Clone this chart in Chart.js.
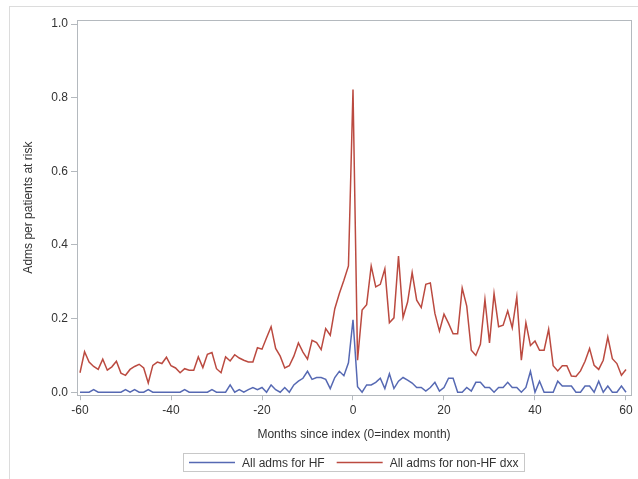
<!DOCTYPE html>
<html>
<head>
<meta charset="utf-8">
<script src="https://cdn.jsdelivr.net/npm/chart.js@4.4.1/dist/chart.umd.min.js"></script>
<style>
  html, body { margin: 0; padding: 0; background: #fff; }
  #wrap { position: relative; width: 638px; height: 479px; }
  #frame { position: absolute; left: 9px; top: 6px; right: 0; bottom: 0; border-left: 1px solid #dcdcdc; border-top: 1px solid #dcdcdc; }
  canvas { position: absolute; left: 0; top: 0; }
</style>
</head>
<body>
<div id="wrap">
  <div id="frame"></div>
  <canvas id="chart" width="638" height="479"></canvas>
</div>
<script>
// months since index (0 = index month)
const months = [
  -60, -59, -58, -57, -56, -55, -54, -53, -52, -51,
  -50, -49, -48, -47, -46, -45, -44, -43, -42, -41,
  -40, -39, -38, -37, -36, -35, -34, -33, -32, -31,
  -30, -29, -28, -27, -26, -25, -24, -23, -22, -21,
  -20, -19, -18, -17, -16, -15, -14, -13, -12, -11,
  -10, -9, -8, -7, -6, -5, -4, -3, -2, -1,
  0,
  1, 2, 3, 4, 5, 6, 7, 8, 9, 10,
  11, 12, 13, 14, 15, 16, 17, 18, 19, 20,
  21, 22, 23, 24, 25, 26, 27, 28, 29, 30,
  31, 32, 33, 34, 35, 36, 37, 38, 39, 40,
  41, 42, 43, 44, 45, 46, 47, 48, 49, 50,
  51, 52, 53, 54, 55, 56, 57, 58, 59, 60
];

// All adms for HF
const hfAdms = [
  0, 0, 0, 0.007, 0, 0, 0, 0, 0, 0,
  0.007, 0, 0.007, 0, 0, 0.007, 0, 0, 0, 0,
  0, 0, 0, 0.007, 0, 0, 0, 0, 0, 0.007,
  0, 0, 0, 0.02, 0, 0.007, 0, 0.007, 0.013, 0.007,
  0.013, 0, 0.02, 0.007, 0, 0.013, 0, 0.02, 0.03, 0.038,
  0.057, 0.035, 0.04, 0.04, 0.035, 0.01, 0.04, 0.057, 0.045, 0.08,
  0.197,
  0.015, 0, 0.02, 0.02, 0.027, 0.038, 0.01, 0.05, 0.01, 0.03,
  0.04, 0.033, 0.025, 0.013, 0.013, 0.003, 0.013, 0.027, 0.003, 0.013,
  0.038, 0.038, 0, 0, 0.013, 0.003, 0.027, 0.027, 0.013, 0.013,
  0, 0.013, 0.013, 0.027, 0.013, 0.013, 0, 0.013, 0.057, 0,
  0.03, 0, 0, 0, 0.03, 0.017, 0.017, 0.017, 0, 0,
  0.017, 0.017, 0, 0.03, 0, 0.017, 0, 0, 0.017, 0
];

// All adms for non-HF dxx
const nonHfAdms = [
  0.053, 0.11, 0.082, 0.07, 0.062, 0.09, 0.06, 0.069, 0.084, 0.052,
  0.046, 0.062, 0.07, 0.076, 0.066, 0.025, 0.073, 0.082, 0.078, 0.095,
  0.072, 0.066, 0.053, 0.064, 0.06, 0.06, 0.096, 0.067, 0.103, 0.108,
  0.064, 0.053, 0.096, 0.085, 0.102, 0.093, 0.087, 0.082, 0.082, 0.121,
  0.117, 0.148, 0.178, 0.119, 0.098, 0.066, 0.072, 0.098, 0.134, 0.109,
  0.09, 0.141, 0.135, 0.116, 0.173, 0.155, 0.227, 0.268, 0.304, 0.343,
  0.822,
  0.087, 0.223, 0.238, 0.343, 0.286, 0.293, 0.335, 0.189, 0.202, 0.37,
  0.203, 0.245, 0.325, 0.25, 0.23, 0.293, 0.297, 0.214, 0.166, 0.212,
  0.187, 0.159, 0.159, 0.283, 0.234, 0.114, 0.1, 0.13, 0.252, 0.134,
  0.268, 0.178, 0.182, 0.221, 0.175, 0.259, 0.087, 0.189, 0.127, 0.139,
  0.114, 0.114, 0.171, 0.072, 0.058, 0.072, 0.072, 0.044, 0.043, 0.058,
  0.084, 0.119, 0.073, 0.062, 0.087, 0.15, 0.091, 0.078, 0.046, 0.062
];

const xTicks = [-60, -40, -20, 0, 20, 40, 60];
const yTicks = [0, 0.2, 0.4, 0.6, 0.8, 1.0];

const FONT = 'Liberation Sans, Arial, sans-serif';
const AXIS_GREY = '#b4b9be';

function toPoints(ys) {
    return months.map(function (m, i) { return { x: m, y: ys[i] }; });
}

// box round the plot area (top and right sides too)
const frameBox = {
    id: 'frameBox',
    afterDatasetsDraw(chart) {
        const a = chart.chartArea;
        const ctx = chart.ctx;
        ctx.save();
        ctx.strokeStyle = AXIS_GREY;
        ctx.lineWidth = 1;
        ctx.strokeRect(Math.round(a.left) + 0.5, Math.round(a.top) + 0.5,
            Math.round(a.right - a.left), Math.round(a.bottom - a.top));
        ctx.restore();
    }
};

// legend with a border, centred under the plot
const boxedLegend = {
    id: 'boxedLegend',
    afterDraw(chart) {
        const ctx = chart.ctx;
        const a = chart.chartArea;
        const sets = chart.data.datasets;
        ctx.save();
        ctx.font = '12px ' + FONT;
        const lineLen = 46, gap = 7, itemGap = 12, pad = 6;
        let total = pad * 2;
        sets.forEach(function (ds, i) {
            total += lineLen + gap + ctx.measureText(ds.label).width;
            if (i < sets.length - 1) total += itemGap;
        });
        const top = 453, h = 18;
        let x = Math.round((a.left + a.right) / 2 - total / 2);
        ctx.strokeStyle = '#c8c8c8';
        ctx.lineWidth = 1;
        ctx.strokeRect(x + 0.5, top + 0.5, Math.round(total), h);
        const cy = top + h / 2 + 0.5;
        x += pad;
        ctx.textBaseline = 'middle';
        sets.forEach(function (ds) {
            ctx.strokeStyle = ds.borderColor;
            ctx.lineWidth = 1.5;
            ctx.beginPath();
            ctx.moveTo(x, cy);
            ctx.lineTo(x + lineLen, cy);
            ctx.stroke();
            x += lineLen + gap;
            ctx.fillStyle = '#333';
            ctx.fillText(ds.label, x, cy + 1);
            x += ctx.measureText(ds.label).width + itemGap;
        });
        ctx.restore();
    }
};

new Chart(document.getElementById('chart').getContext('2d'), {
    type: 'line',
    data: {
        datasets: [
            {
                label: 'All adms for HF',
                data: toPoints(hfAdms),
                borderColor: '#5669b3',
                borderWidth: 1.5,
                pointRadius: 0,
                tension: 0
            },
            {
                label: 'All adms for non-HF dxx',
                data: toPoints(nonHfAdms),
                borderColor: '#bb4a40',
                borderWidth: 1.5,
                pointRadius: 0,
                tension: 0
            }
        ]
    },
    plugins: [frameBox, boxedLegend],
    options: {
        responsive: false,
        animation: false,
        layout: { padding: { left: 17, right: 7, top: 20, bottom: 37 } },
        plugins: {
            legend: { display: false },
            tooltip: { enabled: false }
        },
        scales: {
            x: {
                type: 'linear',
                min: -60.66,
                max: 61.1,
                afterBuildTicks: function (scale) {
                    scale.ticks = xTicks.map(function (v) { return { value: v }; });
                },
                ticks: {
                    color: '#333',
                    font: { family: FONT, size: 12 },
                    padding: 3,
                    maxRotation: 0,
                    callback: function (v) { return String(v); }
                },
                grid: { drawOnChartArea: false, tickLength: 5, color: AXIS_GREY },
                border: { color: AXIS_GREY },
                title: {
                    display: true,
                    text: 'Months since index (0=index month)',
                    color: '#333',
                    font: { family: FONT, size: 12 },
                    padding: { top: 7, bottom: 0 }
                }
            },
            y: {
                min: -0.008,
                max: 1.011,
                afterBuildTicks: function (scale) {
                    scale.ticks = yTicks.map(function (v) { return { value: v }; });
                },
                afterFit: function (scale) { scale.width = 60; },
                ticks: {
                    color: '#333',
                    font: { family: FONT, size: 12 },
                    padding: 3,
                    callback: function (v) { return v.toFixed(1); }
                },
                grid: { drawOnChartArea: false, tickLength: 6, color: AXIS_GREY },
                border: { color: AXIS_GREY },
                title: {
                    display: true,
                    text: 'Adms per patients at risk',
                    color: '#333',
                    font: { family: FONT, size: 12 },
                    padding: { top: 4, bottom: 4 }
                }
            }
        }
    }
});
</script>
</body>
</html>
